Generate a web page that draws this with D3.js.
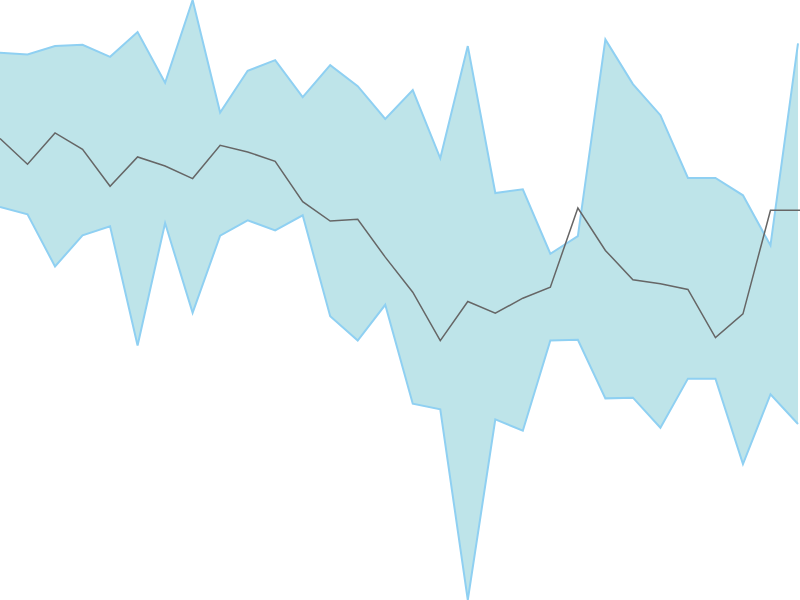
<!DOCTYPE html>
<html>
<head>
<meta charset="utf-8">
<script src="https://cdn.jsdelivr.net/npm/d3@7"></script>
<style>
  html, body { margin: 0; padding: 0; background: #fff; }
  svg { display: block; }
</style>
</head>
<body>
<svg id="chart" width="800" height="600"></svg>
<script>
// band upper / lower bounds and the middle series, one value per step
var upper = [54.73, 54.57, 55.4, 55.53, 54.33, 56.8, 51.73, 60, 48.77, 52.93,
             54, 50.3, 53.5, 51.4, 48.13, 51, 44.2, 55.4, 40.73, 41.1,
             34.67, 36.43, 56.07, 51.6, 48.5, 42.23, 42.23, 40.5, 35.5, 55.67];
var middle = [46.17, 43.6, 46.73, 45.1, 41.4, 44.33, 43.43, 42.17, 45.5, 44.83,
              43.9, 39.87, 37.93, 38.1, 34.33, 30.83, 26, 29.9, 28.73, 30.23,
              31.33, 39.23, 35, 32.07, 31.67, 31.1, 26.3, 28.67, 39, 39];
var lower = [39.33, 38.6, 33.4, 36.5, 37.4, 25.5, 37.73, 28.77, 36.47, 38,
             37, 38.5, 28.43, 26, 29.57, 19.7, 19.13, 0.1, 18.13, 17,
             26, 26.07, 20.23, 20.3, 17.3, 22.2, 22.2, 13.67, 20.63, 17.67];

var width = 800, height = 600;
var svg = d3.select("#chart");

var x = d3.scaleLinear()
  .domain([0, upper.length - 1])
  .range([0, 798]);

var y = d3.scaleLinear()
  .domain([d3.min(lower), d3.max(upper)])
  .range([height, 0]);

var idx = d3.range(upper.length);

var area = d3.area()
  .x(function(i) { return x(i); })
  .y0(function(i) { return y(lower[i]); })
  .y1(function(i) { return y(upper[i]); });

svg.append("path")
  .datum(idx)
  .attr("d", area)
  .attr("fill", "#bee4e9");

function edge(arr) {
  return d3.line()
    .x(function(i) { return x(i); })
    .y(function(i) { return y(arr[i]); });
}

[upper, lower].forEach(function(arr) {
  svg.append("path")
    .datum(idx)
    .attr("d", edge(arr))
    .attr("fill", "none")
    .attr("stroke", "#8fd0f2")
    .attr("stroke-width", 2);
});

// middle line runs on to the right edge
svg.append("path")
  .attr("d", edge(middle)(idx) + "H" + width)
  .attr("fill", "none")
  .attr("stroke", "#666")
  .attr("stroke-width", 1.5);
</script>
</body>
</html>
